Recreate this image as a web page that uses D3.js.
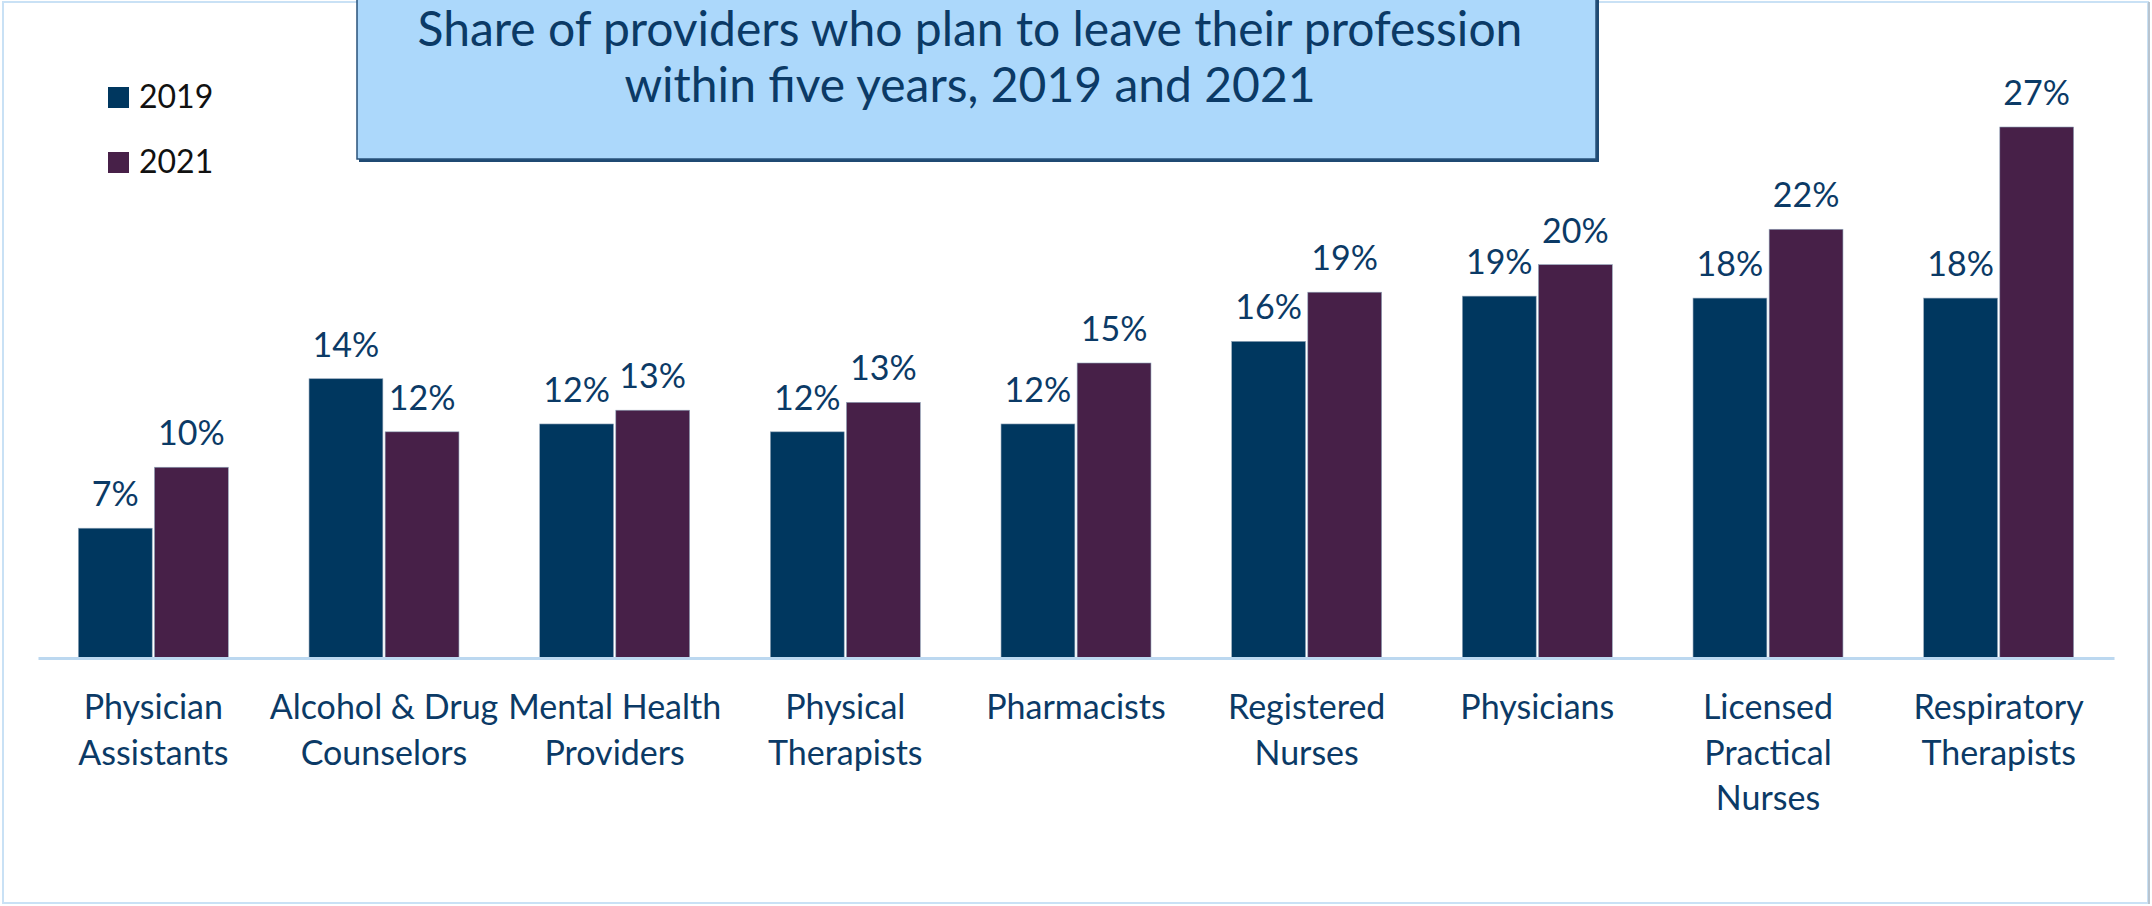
<!DOCTYPE html>
<html><head><meta charset="utf-8">
<script src="https://cdn.jsdelivr.net/npm/d3@7"></script>
<style>
html,body{margin:0;padding:0;background:#fff;}
svg{display:block;font-family:Lato,"Open Sans",sans-serif;}
</style></head>
<body>
<svg id="chart" width="2152" height="906"></svg>
<script>
const categories = [
  ["Physician","Assistants"],
  ["Alcohol & Drug","Counselors"],
  ["Mental Health","Providers"],
  ["Physical","Therapists"],
  ["Pharmacists"],
  ["Registered","Nurses"],
  ["Physicians"],
  ["Licensed","Practical","Nurses"],
  ["Respiratory","Therapists"]
];
const series = ["2019","2021"];
const values2019 = [6.6, 14.2, 11.9, 11.5, 11.9, 16.1, 18.4, 18.3, 18.3];
const values2021 = [9.7, 11.5, 12.6, 13.0, 15.0, 18.6, 20.0, 21.8, 27.0];
const labels2019 = ["7%","14%","12%","12%","12%","16%","19%","18%","18%"];
const labels2021 = ["10%","12%","13%","13%","15%","19%","20%","22%","27%"];
const titleLines = ["Share of providers who plan to leave their profession","within five years, 2019 and 2021"];

const colors = {"2019":"#00375f","2021":"#472048"};
const navy = "#0b3a66";

const svg = d3.select("#chart");
const W = 2152, H = 906;

// outer border
svg.append("rect").attr("x",3).attr("y",2).attr("width",W-7).attr("height",H-5)
  .attr("fill","#fff").attr("stroke","#c9e1f5").attr("stroke-width",2);
svg.append("line").attr("x1",W-3).attr("x2",W-3).attr("y1",2).attr("y2",H-2)
  .attr("stroke","#b8c4cf").attr("stroke-width",2);

const x0 = d3.scaleBand().domain(d3.range(categories.length)).range([38,2114])
  .paddingInner(0.35).paddingOuter(0.175);
const x1 = d3.scaleBand().domain(series).range([0,x0.bandwidth()]).paddingInner(0.03);
const y = d3.scaleLinear().domain([0,30]).range([658,68]);

const data = categories.map((c,i)=>({i, vals:[
  {s:"2019", v:values2019[i], l:labels2019[i]},
  {s:"2021", v:values2021[i], l:labels2021[i]}]}));

const g = svg.append("g");
const grp = g.selectAll("g.grp").data(data).join("g")
  .attr("transform",d=>`translate(${x0(d.i)},0)`);
grp.selectAll("rect").data(d=>d.vals).join("rect")
  .attr("x",d=>x1(d.s)).attr("width",x1.bandwidth())
  .attr("y",d=>y(d.v)).attr("height",d=>y(0)-y(d.v))
  .attr("fill",d=>colors[d.s]).attr("stroke","#8fa3b8").attr("stroke-width",0.6);
grp.selectAll("text.val").data(d=>d.vals).join("text").attr("class","val")
  .attr("x",d=>x1(d.s)+x1.bandwidth()/2).attr("y",d=>y(d.v)-22)
  .attr("text-anchor","middle").attr("font-size",34).attr("fill",navy)
  .text(d=>d.l);

// axis line
const xAxis = d3.axisBottom(x0).tickSize(0).tickFormat("");
const ax = svg.append("g").attr("transform","translate(0,658)").call(xAxis);
ax.select(".domain").attr("stroke","#bcd8f0").attr("stroke-width",3);

// category labels
const cl = svg.append("g");
categories.forEach((lines,i)=>{
  const t = cl.append("text").attr("text-anchor","middle").attr("font-size",34).attr("fill",navy);
  lines.forEach((ln,k)=>{
    t.append("tspan").attr("x",x0(i)+x0.bandwidth()/2).attr("y",719+k*45.5).text(ln);
  });
});

// title box
svg.append("rect").attr("x",359).attr("y",-10).attr("width",1240).attr("height",172)
  .attr("fill","#1f4a73");
svg.append("rect").attr("x",357).attr("y",-10).attr("width",1239).attr("height",169)
  .attr("fill","#acd8fb").attr("stroke","#28527a").attr("stroke-width",1.5);
const tt = svg.append("text").attr("text-anchor","middle").attr("font-size",48).attr("fill",navy);
titleLines.forEach((ln,k)=>{
  tt.append("tspan").attr("x",970).attr("y",46+k*56).text(ln);
});

// legend
const lg = svg.append("g");
series.forEach((s,k)=>{
  lg.append("rect").attr("x",108).attr("y",87+k*65).attr("width",21).attr("height",21).attr("fill",colors[s]);
  lg.append("text").attr("x",139).attr("y",108+k*65).attr("font-size",32).attr("fill","#111").text(s);
});
</script>
</body></html>
